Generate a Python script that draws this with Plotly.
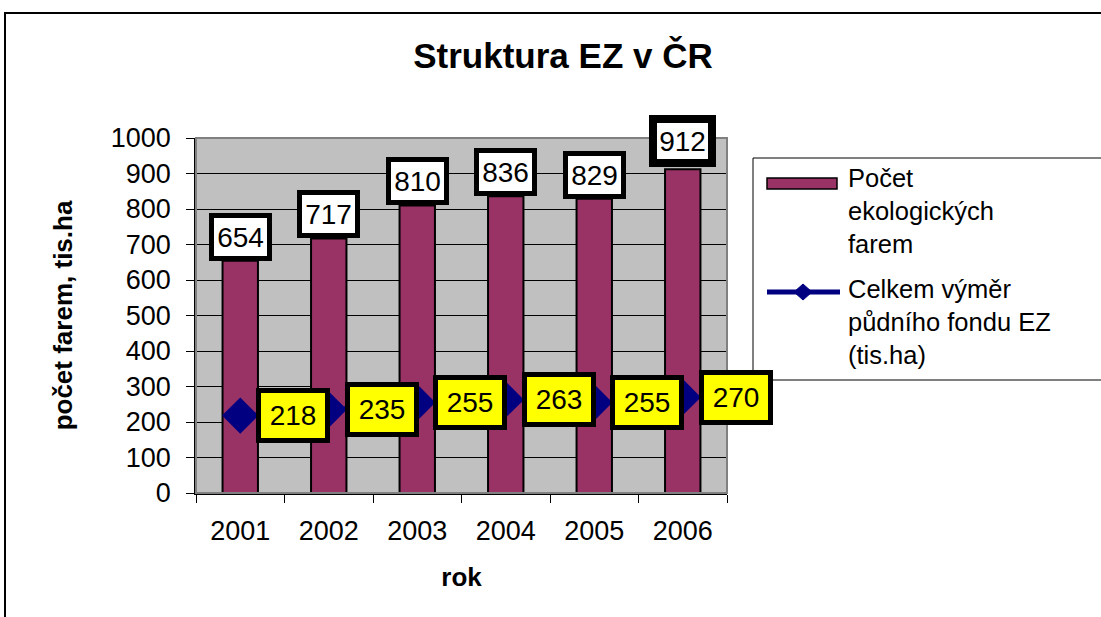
import plotly.graph_objects as go

years = ["2001", "2002", "2003", "2004", "2005", "2006"]
farms = [654, 717, 810, 836, 829, 912]
area = [218, 235, 255, 263, 255, 270]
y_ticks = [0, 100, 200, 300, 400, 500, 600, 700, 800, 900, 1000]

W, H = 1101, 617
L, R, T, B = 196, 374, 138, 124
PW, PH = W - L - R, H - T - B
FONT = "Liberation Sans, Arial, sans-serif"

xpos = list(range(len(years)))
bounds = [i - 0.5 for i in range(len(years) + 1)]


def px(x):
    return (x - L) / PW


def py(y):
    return (H - B - y) / PH


fig = go.Figure()
fig.add_trace(go.Bar(
    x=xpos, y=farms, name="Počet ekologických farem",
    marker=dict(color="#993366", line=dict(color="black", width=2)),
    width=0.4, showlegend=False,
))
fig.add_trace(go.Scatter(
    x=xpos, y=area, name="Celkem výměr půdního fondu EZ (tis.ha)",
    mode="lines+markers",
    line=dict(color="#000080", width=4),
    marker=dict(symbol="diamond", size=28, color="#000080"),
    showlegend=False,
))

annotations = []
for i, v in zip(xpos, farms):
    big = (v == max(farms))
    annotations.append(dict(
        x=i, y=v, xref="x", yref="y", text=str(v), showarrow=False,
        xanchor="center", yanchor="bottom", yshift=2 if big else 0,
        font=dict(family=FONT, size=28, color="black"),
        bgcolor="white", bordercolor="black",
        borderwidth=8 if big else 5, borderpad=1 if big else 2,
        width=49, height=34,
    ))
for i, v in zip(xpos, area):
    annotations.append(dict(
        x=i, y=v, xref="x", yref="y", text=str(v), showarrow=False,
        xanchor="left", yanchor="middle", xshift=16,
        font=dict(family=FONT, size=28, color="black"),
        bgcolor="#FFFF00", bordercolor="black", borderwidth=5, borderpad=5,
        width=54, height=35,
    ))

# legend texts
annotations.append(dict(
    x=px(846), y=py(211), xref="paper", yref="paper",
    text="Počet<br>ekologických<br>farem", showarrow=False,
    xanchor="left", yanchor="middle", align="left",
    font=dict(family=FONT, size=25.5, color="black"),
))
annotations.append(dict(
    x=px(846), y=py(322), xref="paper", yref="paper",
    text="Celkem výměr<br>půdního fondu EZ<br>(tis.ha)", showarrow=False,
    xanchor="left", yanchor="middle", align="left",
    font=dict(family=FONT, size=25.5, color="black"),
))

shapes = [
    # outer chart border
    dict(type="rect", xref="paper", yref="paper",
         x0=px(5), x1=px(1115), y0=py(13), y1=py(630),
         line=dict(color="black", width=2), layer="below"),
    # plot area border (gray)
    dict(type="rect", xref="paper", yref="paper",
         x0=0, x1=1, y0=0, y1=1,
         line=dict(color="#808080", width=2), layer="above"),
    # legend box
    dict(type="rect", xref="paper", yref="paper",
         x0=px(753), x1=px(1112), y0=py(380), y1=py(158),
         line=dict(color="black", width=1), fillcolor="white", layer="above"),
    # legend bar symbol
    dict(type="rect", xref="paper", yref="paper",
         x0=px(767), x1=px(837), y0=py(189), y1=py(178),
         line=dict(color="black", width=1.5), fillcolor="#993366", layer="above"),
    # legend line symbol
    dict(type="line", xref="paper", yref="paper",
         x0=px(767), x1=px(840), y0=py(292), y1=py(292),
         line=dict(color="#000080", width=5), layer="above"),
    dict(type="path", xref="paper", yref="paper",
         path=f"M {px(794)},{py(292)} L {px(803)},{py(284)} L {px(812)},{py(292)} L {px(803)},{py(300)} Z",
         line=dict(color="#000080", width=1), fillcolor="#000080", layer="above"),
]

fig.update_layout(
    width=W, height=H,
    margin=dict(l=L, r=R, t=T, b=B, autoexpand=False),
    paper_bgcolor="white", plot_bgcolor="#C0C0C0",
    font=dict(family=FONT, color="black"),
    title=dict(text="<b>Struktura EZ v ČR</b>", x=563 / W, xanchor="center",
               y=1 - 56 / H, yanchor="middle",
               font=dict(family=FONT, size=35, color="black")),
    showlegend=False,
    annotations=annotations,
    shapes=shapes,
)
fig.update_xaxes(
    range=[bounds[0], bounds[-1]], tickvals=xpos, ticktext=years,
    ticks="", showline=True, linecolor="black", tickangle=0,
    linewidth=1.5, showgrid=False, zeroline=False,
    minor=dict(tickvals=bounds, ticks="outside", ticklen=8,
               tickcolor="black", tickwidth=1, showgrid=False),
    tickfont=dict(family=FONT, size=27, color="black"),
    ticklabelstandoff=13,
    title=dict(text="<b>rok</b>", font=dict(family=FONT, size=26, color="black"),
               standoff=23),
    automargin=False,
)
fig.update_yaxes(
    range=[0, 1000], tickvals=y_ticks, ticks="outside", ticklen=8,
    tickcolor="black", tickwidth=1, showline=True, linecolor="black",
    linewidth=1.5, showgrid=True, gridcolor="black", gridwidth=1,
    zeroline=False, ticklabelstandoff=10,
    tickfont=dict(family=FONT, size=27, color="black"),
    title=dict(text="<b>počet farem, tis.ha</b>",
               font=dict(family=FONT, size=26, color="black"), standoff=31),
    automargin=False,
)

fig.write_html("out.html", config={"displayModeBar": False},
               post_script="document.body.style.margin='0px';")
